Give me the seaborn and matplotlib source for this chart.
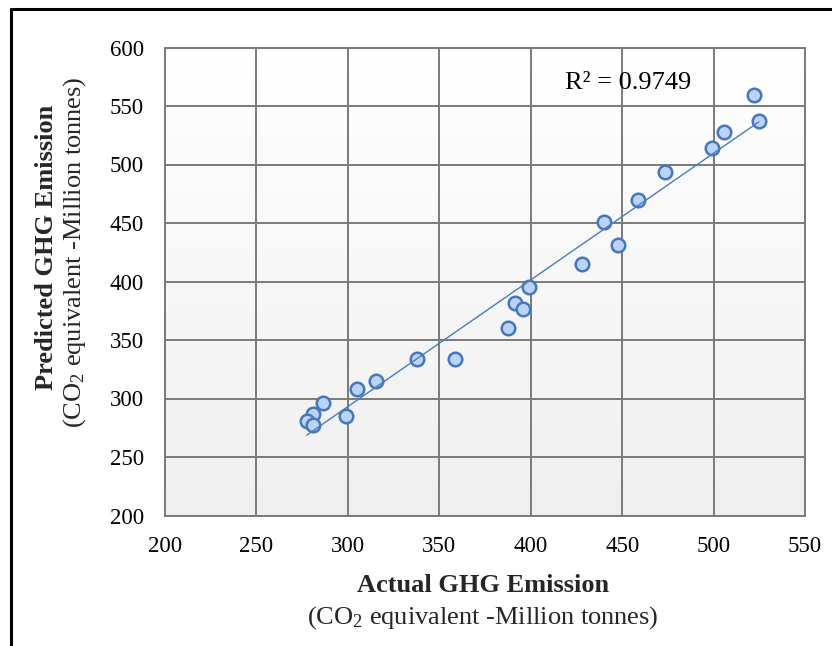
import numpy as np
import pandas as pd
import matplotlib
matplotlib.use("Agg")
import matplotlib.pyplot as plt
import seaborn as sns
from matplotlib.lines import Line2D
from matplotlib.colors import LinearSegmentedColormap

# ---- data ----
actual = [522.0, 524.8, 505.6, 498.9, 473.4, 458.8, 440.0, 447.5, 427.8, 399.2,
          391.4, 395.9, 387.7, 358.6, 337.6, 315.2, 305.1, 299.0, 286.2, 280.8,
          277.5, 281.1]
predicted = [559.4, 537.4, 527.5, 514.4, 493.6, 469.4, 450.6, 431.2, 414.7, 395.0,
             381.4, 376.5, 360.0, 334.0, 333.8, 315.2, 307.9, 285.0, 296.4, 286.8,
             281.0, 277.1]
x_ticks = [200, 250, 300, 350, 400, 450, 500, 550]
y_ticks = [200, 250, 300, 350, 400, 450, 500, 550, 600]
r2_label = "R² = 0.9749"

df = pd.DataFrame({"actual": actual, "predicted": predicted})

sns.set_style("white")
plt.rcParams["font.family"] = ["Liberation Serif", "DejaVu Serif"]
plt.rcParams["mathtext.fontset"] = "custom"
plt.rcParams["mathtext.rm"] = "Liberation Serif"
plt.rcParams["mathtext.it"] = "Liberation Serif:italic"
plt.rcParams["mathtext.bf"] = "Liberation Serif:bold"

W, H = 832, 646
fig = plt.figure(figsize=(W / 100, H / 100), dpi=100)
fig.patch.set_facecolor("white")
ax = fig.add_axes([165 / W, 1 - 515.5 / H, (805 - 165) / W, (515.5 - 47.5) / H])

# gradient background of plot area (white at top, light grey at bottom)
grad = np.linspace(0, 1, 256).reshape(-1, 1)
cmap = LinearSegmentedColormap.from_list("bg", ["#ffffff", "#efefef"])
ax.imshow(grad, extent=[0, 1, 0, 1], transform=ax.transAxes, cmap=cmap,
          aspect="auto", zorder=-2, origin="upper")

sns.regplot(data=df, x="actual", y="predicted", ax=ax, ci=None, truncate=True,
            scatter_kws=dict(s=95, color="#bad3f7", edgecolor="#4677b8",
                             linewidths=1.8, alpha=1, zorder=3),
            line_kws=dict(color="#4a7ebb", linewidth=1.0, zorder=4))

ax.set_xlim(200, 550)
ax.set_ylim(200, 600)
ax.set_xticks(x_ticks)
ax.set_yticks(y_ticks)
ax.grid(True, color="#7a7a7a", linewidth=1.4)
ax.set_axisbelow(True)
for s in ax.spines.values():
    s.set_color("#7a7a7a")
    s.set_linewidth(1.4)
ax.tick_params(axis="both", length=0, labelsize=16.5, colors="black")
ax.tick_params(axis="x", pad=15)
ax.tick_params(axis="y", pad=15)
ax.set_xlabel("")
ax.set_ylabel("")

ax.text(0.723, 0.924, r2_label, transform=ax.transAxes, fontsize=19,
        ha="center", va="center", color="black")

# axis titles
fig.text(483 / W, 1 - 585 / H, "Actual GHG Emission", fontsize=19,
         fontweight="bold", ha="center", va="center")
fig.text(483 / W, 1 - 618 / H, r"(CO$_\mathrm{2}$ equivalent -Million tonnes)", fontsize=19,
         ha="center", va="center")
fig.text(47 / W, 1 - 247 / H, "Predicted GHG Emission", fontsize=19,
         fontweight="bold", ha="center", va="center", rotation=90)
fig.text(75 / W, 1 - 252 / H, r"(CO$_\mathrm{2}$ equivalent -Million tonnes)", fontsize=19,
         ha="center", va="center", rotation=90)

# outer frame (top and left edges visible)
fig.add_artist(Line2D([10.5 / W, 10.5 / W], [0, 1 - 9 / H], transform=fig.transFigure,
                      color="black", linewidth=2.2))
fig.add_artist(Line2D([10.5 / W, 1], [1 - 9 / H, 1 - 9 / H], transform=fig.transFigure,
                      color="black", linewidth=2.2))

fig.savefig("out.png", dpi=100, facecolor="white")
